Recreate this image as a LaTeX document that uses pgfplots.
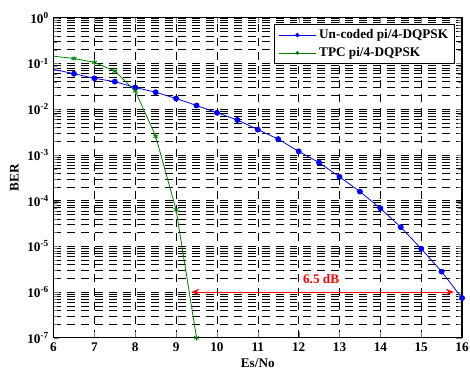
\documentclass[border=0pt]{standalone}
\usepackage{fontspec}
\setmainfont{Liberation Serif}
\usepackage{pgfplots}
\pgfplotsset{compat=1.18}
\usetikzlibrary{arrows.meta}
\definecolor{mgreen}{rgb}{0,0.5,0}
\begin{document}
\begin{tikzpicture}
\useasboundingbox (-40.5pt,-24.75pt) rectangle (315pt,255.5pt);
\begin{semilogyaxis}[
  at={(0,0)}, anchor=south west,
  scale only axis,
  width=309pt, height=242pt,
  xmin=6, xmax=16, ymin=1e-7, ymax=1,
  xtick={6,7,...,16},
  ytick={1e-7,1e-6,1e-5,1e-4,1e-3,1e-2,1e-1,1},
  yticklabels={10\textsuperscript{-7},10\textsuperscript{-6},10\textsuperscript{-5},10\textsuperscript{-4},10\textsuperscript{-3},10\textsuperscript{-2},10\textsuperscript{-1},10\textsuperscript{0}},
  /pgf/number format/assume math mode=true,
  ticklabel style={font=\bfseries\fontsize{10}{12}\selectfont},
  tick align=inside,
  axis line style={line width=0.9pt},
  grid=both,
  major grid style={black, dash pattern=on 6pt off 4.5pt, line width=0.45pt},
  minor grid style={black, dash pattern=on 6pt off 4.5pt, line width=0.45pt},
  minor x tick num=0,
  xlabel={\bfseries Es/No}, ylabel={\bfseries BER},
  xlabel style={font=\bfseries\fontsize{10}{12}\selectfont, at={(axis description cs:0.5,-0.079)}, anchor=center},
  ylabel style={font=\bfseries\fontsize{10}{12}\selectfont, at={(axis description cs:-0.096,0.5)}, anchor=center},
  legend style={at={(0.983,0.981)}, anchor=north east, font=\bfseries\fontsize{10}{12}\selectfont, draw=black, line width=0.6pt, fill=white, row sep=1pt, inner xsep=3pt},
  legend cell align=left,
  legend image code/.code={\draw[mark repeat=2,mark phase=2,mark size=1.4pt,#1] plot coordinates {(0cm,0cm) (0.5cm,0cm) (1cm,0cm)};},
]
\addplot[blue, line width=0.6pt, mark=*, mark size=1.9pt, mark phase=2] coordinates {
(6,0.0745) (6.5,0.060) (7,0.0475) (7.5,0.0403) (8,0.0299) (8.5,0.0236)
(9,0.0172) (9.5,0.0121) (10,0.0084) (10.5,0.00583) (11,0.00359)
(11.5,0.00222) (12,0.00120) (12.5,0.00068) (13,0.000333) (13.5,0.000158)
(14,6.8e-5) (14.5,2.63e-5) (15,8.9e-6) (15.5,2.8e-6) (16,7.4e-7)
};
\addlegendentry{Un-coded pi/4-DQPSK}
\addplot[mgreen, line width=0.6pt, mark=asterisk, mark size=2.2pt, mark phase=2] coordinates {
(6,0.145) (6.5,0.129) (7,0.106) (7.5,0.0685) (8,0.0251) (8.5,0.00257)
(9,6.3e-5) (9.5,1e-7)
};
\addlegendentry{TPC pi/4-DQPSK}
\draw[red, line width=0.6pt, {Stealth[length=6pt,width=5pt]}-{Stealth[length=6pt,width=5pt]}] (axis cs:9.37,1e-6) -- (axis cs:15.8,1e-6);
\node[red, font=\bfseries\fontsize{10}{12}\selectfont, fill=white, inner sep=1pt] at (axis cs:12.55,1.9e-6) {6.5 dB};
\end{semilogyaxis}
\end{tikzpicture}
\end{document}
